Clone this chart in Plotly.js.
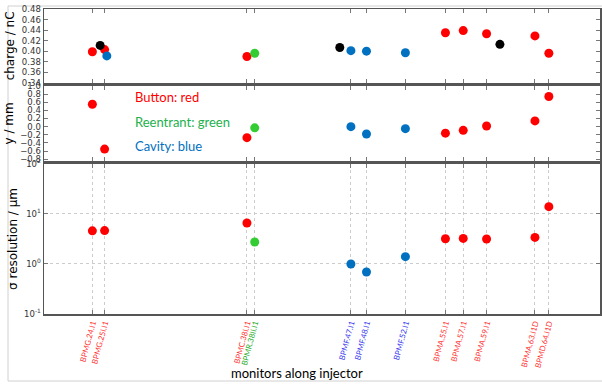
<!DOCTYPE html>
<html>
<head>
<meta charset="utf-8">
<script src="https://cdn.plot.ly/plotly-3.0.1.min.js"></script>
<style>html,body{margin:0;padding:0;background:#fff;}#chart{width:602px;height:384px;}</style>
</head>
<body>
<div id="chart"></div>
<script>
// ---- data ----
const monitorNames = ["BPMG.24.I1","BPMG.25I.I1","BPMC.38I.I1","BPMR.38II.I1","BPMF.47.I1","BPMF.48.I1","BPMF.52.I1","BPMA.55.I1","BPMA.57.I1","BPMA.59.I1","BPMA.63.I1D","BPMD.64.I1D"];
const monitorPos   = [8.7, 10.9, 36.5, 37.9, 55.2, 58.0, 65.0, 72.2, 75.4, 79.6, 88.3, 90.8];
const monitorType  = ["button","button","button","reentrant","cavity","cavity","cavity","button","button","button","button","button"];

const chargeValues = [0.399, 0.403, 0.390, 0.396, 0.401, 0.400, 0.397, 0.435, 0.439, 0.433, 0.429, 0.396];
const chargeExtraPos  = [11.3];
const chargeExtraVals = [0.391];
const chargeExtraType = ["cavity"];
const chargeRefPos  = [10.1, 53.2, 82.0];
const chargeRefVals = [0.411, 0.407, 0.413];

const yValues     = [0.55, -0.55, -0.27, -0.03, 0.0, -0.18, -0.05, -0.16, -0.09, 0.015, 0.14, 0.74];
const sigmaValues = [4.6, 4.65, 6.6, 2.75, 1.0, 0.69, 1.4, 3.2, 3.25, 3.15, 3.4, 14];

const yTickVals = [-0.8,-0.6,-0.4,-0.2,0.0,0.2,0.4,0.6,0.8,1.0];
const sigmaTickVals = [0.1, 1, 10, 100];
const sigmaTickText = ["10<sup>-1</sup>","10<sup>0</sup>","10<sup>1</sup>","10<sup>2</sup>"];

const legendNotes = ["Button: red", "Reentrant: green", "Cavity: blue"];
const noteTypes   = ["button", "reentrant", "cavity"];

// ---- styles ----
const markerColor = {button:"#ff0000", reentrant:"#33cc33", cavity:"#0070c0"};
const labelColor  = {button:"#ff3030", reentrant:"#22aa22", cavity:"#3333ee"};
const noteColor   = {button:"#ff0000", reentrant:"#22b14c", cavity:"#0070c0"};

function pts(xs, ys, types, xa, ya, color) {
  return {
    type: "scatter", mode: "markers", x: xs, y: ys, xaxis: xa, yaxis: ya,
    marker: {size: 9, color: color || types.map(t => markerColor[t])},
    showlegend: false, hoverinfo: "skip"
  };
}

const traces = [
  pts(monitorPos, chargeValues, monitorType, "x", "y"),
  pts(chargeExtraPos, chargeExtraVals, chargeExtraType, "x", "y"),
  pts(chargeRefPos, chargeRefVals, null, "x", "y", "#000000"),
  pts(monitorPos, yValues, monitorType, "x2", "y2"),
  pts(monitorPos, sigmaValues, monitorType, "x3", "y3")
];

const lineCol = "#555555";
const tickFont = {family: "DejaVu Sans", size: 8.5, color: "#333"};
const titleFont = {family: "DejaVu Sans", size: 12, color: "#000"};

function xAxis(anchor, withLabels) {
  return {
    anchor: anchor, range: [0, 100], showline: true, mirror: "ticks", linecolor: lineCol, linewidth: 1.5,
    tickvals: monitorPos, ticks: "inside", ticklen: 4, tickcolor: "#777",
    showticklabels: withLabels,
    ticktext: monitorNames.map((n, i) => '<span style="color:' + labelColor[monitorType[i]] + '">' + n + '</span>'),
    tickangle: -75, tickfont: {family: "Lato", size: 7.8},
    showgrid: withLabels, gridcolor: "#cccccc", griddash: "dot", gridwidth: 1,
    zeroline: false, fixedrange: true
  };
}

const layout = {
  width: 602, height: 384,
  margin: {l: 44, r: 2, t: 9, b: 70},
  paper_bgcolor: "#fff", plot_bgcolor: "#fff",
  showlegend: false,
  xaxis: xAxis("y", false),
  xaxis2: xAxis("y2", false),
  xaxis3: xAxis("y3", true),
  yaxis: {
    domain: [0.758, 1], range: [0.34, 0.48], dtick: 0.02, tick0: 0.34, tickformat: ".2f",
    showline: true, mirror: "ticks", linecolor: lineCol, linewidth: 1.5,
    ticks: "inside", ticklen: 4, tickcolor: "#777", tickfont: tickFont, showgrid: false, zeroline: false,
    title: {text: "charge / nC", font: titleFont, standoff: 4}
  },
  yaxis2: {
    domain: [0.502, 0.748], range: [-0.84, 1.0], tickvals: yTickVals, tickformat: ".1f",
    showline: true, mirror: "ticks", linecolor: lineCol, linewidth: 1.5,
    ticks: "inside", ticklen: 4, tickcolor: "#777", tickfont: tickFont, showgrid: false, zeroline: false,
    title: {text: "y / mm", font: titleFont, standoff: 4}
  },
  yaxis3: {
    domain: [0, 0.492], type: "log", range: [-1, 2], tickvals: sigmaTickVals, ticktext: sigmaTickText,
    showline: true, mirror: "ticks", linecolor: lineCol, linewidth: 1.5,
    ticks: "inside", ticklen: 4, tickcolor: "#777", tickfont: tickFont,
    showgrid: true, gridcolor: "#cccccc", griddash: "dot", zeroline: false,
    title: {text: "σ resolution / µm", font: titleFont, standoff: 4}
  },
  annotations: legendNotes.map((t, i) => ({
    text: t, xref: "paper", yref: "paper", x: 0.16, y: [0.711, 0.630, 0.551][i],
    xanchor: "left", yanchor: "middle", showarrow: false,
    font: {family: "Lato", size: 13, color: noteColor[noteTypes[i]]}
  })).concat([{
    text: "monitors along injector", xref: "paper", yref: "paper", x: 0.455, y: -0.195,
    xanchor: "center", yanchor: "middle", showarrow: false,
    font: {family: "Lato", size: 13, color: "#000"}
  }]),
  shapes: [{
    type: "rect", xref: "paper", yref: "paper",
    x0: (8 - 44) / 556, x1: (615 - 44) / 556, y0: (314 - 381) / 305, y1: (314 - 6) / 305,
    line: {color: "#d0d0d0", width: 1}, fillcolor: "rgba(0,0,0,0)", layer: "below"
  }]
};

Plotly.newPlot("chart", traces, layout, {staticPlot: true, displayModeBar: false});
</script>
</body>
</html>
